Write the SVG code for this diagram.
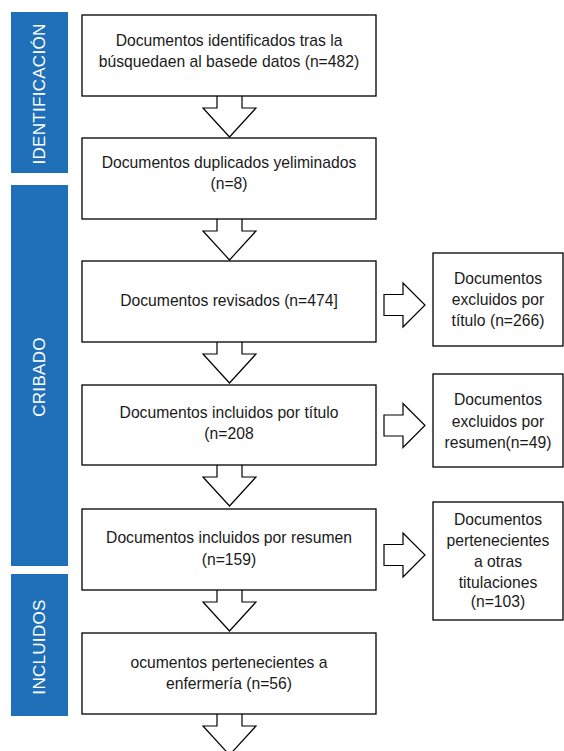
<svg xmlns="http://www.w3.org/2000/svg" xmlns:xlink="http://www.w3.org/1999/xlink" width="564" height="751" viewBox="0 0 564 751">
<style>
.bar{fill:#1f70b9}
.lbl{font-family:"Liberation Sans",Arial,sans-serif;font-size:17px;letter-spacing:0.3px;fill:#ffffff;text-anchor:middle}
.box{fill:#ffffff;stroke:#000;stroke-width:1.3}
.t{font-family:"Liberation Sans",Arial,sans-serif;font-size:15.7px;fill:#1a1a1a;text-anchor:middle}
.arr{fill:#ffffff;stroke:#000;stroke-width:1.2;stroke-linejoin:miter}
</style>
<defs>
<path id="down" d="M-12.5,0 V12 H-26.5 L0,41 L26.5,12 H12.5 V0"/>
<path id="right" d="M0,-10.5 H19 V-22 L41,0 L19,22 V10.5 H0 Z"/>
</defs>
<rect width="564" height="751" fill="#ffffff"/>
<g id="phase-identificacion">
<rect class="bar" x="11" y="12" width="57" height="161"/>
<text class="lbl" transform="translate(45,94) rotate(-90)">IDENTIFICACIÓN</text>
</g>
<g id="phase-cribado">
<rect class="bar" x="11" y="185" width="57" height="381"/>
<text class="lbl" transform="translate(45,377) rotate(-90)">CRIBADO</text>
</g>
<g id="phase-incluidos">
<rect class="bar" x="11" y="574" width="57" height="142"/>
<text class="lbl" transform="translate(45,647) rotate(-90)">INCLUIDOS</text>
</g>
<g id="connectors">
<use xlink:href="#down" class="arr" x="229.5" y="96"/>
<use xlink:href="#down" class="arr" x="229.5" y="219"/>
<use xlink:href="#down" class="arr" x="229.5" y="342"/>
<use xlink:href="#down" class="arr" x="229.5" y="465"/>
<use xlink:href="#down" class="arr" x="229.5" y="590"/>
<use xlink:href="#down" class="arr" x="229.5" y="714"/>
<use xlink:href="#right" class="arr" x="384" y="305"/>
<use xlink:href="#right" class="arr" x="384" y="425.5"/>
<use xlink:href="#right" class="arr" x="384" y="555"/>
</g>
<g id="n1">
<rect class="box" x="82" y="15" width="294" height="81"/>
<text class="t" x="229" y="46">Documentos identificados tras la</text>
<text class="t" x="229" y="67">búsquedaen al basede datos (n=482)</text>
</g>
<g id="n2">
<rect class="box" x="82" y="138" width="294" height="81"/>
<text class="t" x="229" y="168">Documentos duplicados yeliminados</text>
<text class="t" x="229" y="189">(n=8)</text>
</g>
<g id="n3">
<rect class="box" x="82" y="261" width="294" height="81"/>
<text class="t" x="229" y="306">Documentos revisados (n=474]</text>
</g>
<g id="n4">
<rect class="box" x="82" y="385" width="294" height="80"/>
<text class="t" x="229" y="418">Documentos incluidos por título</text>
<text class="t" x="229" y="439">(n=208</text>
</g>
<g id="n5">
<rect class="box" x="82" y="509" width="294" height="81"/>
<text class="t" x="229" y="543">Documentos incluidos por resumen</text>
<text class="t" x="229" y="565">(n=159)</text>
</g>
<g id="n6">
<rect class="box" x="82" y="633" width="294" height="81"/>
<text class="t" x="229" y="668">ocumentos pertenecientes a</text>
<text class="t" x="229" y="689">enfermería (n=56)</text>
</g>
<g id="e1">
<rect class="box" x="433" y="253" width="130" height="93"/>
<text class="t" x="498" y="284">Documentos</text>
<text class="t" x="498" y="305">excluidos por</text>
<text class="t" x="498" y="326">título (n=266)</text>
</g>
<g id="e2">
<rect class="box" x="433" y="374" width="130" height="93"/>
<text class="t" x="498" y="405">Documentos</text>
<text class="t" x="498" y="427">excluidos por</text>
<text class="t" x="498" y="448">resumen(n=49)</text>
</g>
<g id="e3">
<rect class="box" x="433" y="502" width="130" height="118"/>
<text class="t" x="498" y="525">Documentos</text>
<text class="t" x="498" y="546">pertenecientes</text>
<text class="t" x="498" y="567">a otras</text>
<text class="t" x="498" y="588">titulaciones</text>
<text class="t" x="498" y="607">(n=103)</text>
</g>
</svg>
